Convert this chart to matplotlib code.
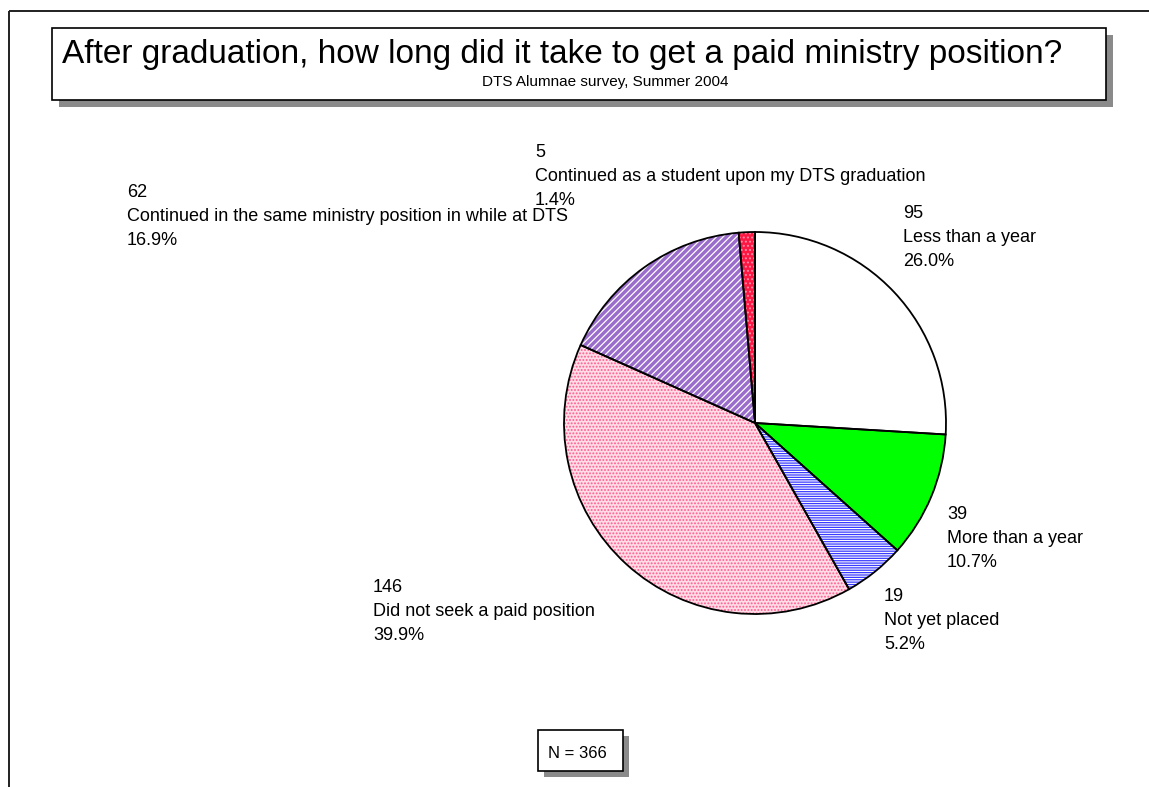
import matplotlib
matplotlib.use("Agg")
import matplotlib.pyplot as plt
from matplotlib.patches import Rectangle

plt.rcParams['font.family'] = ['Liberation Sans', 'DejaVu Sans']
plt.rcParams['hatch.linewidth'] = 0.9

# Survey responses, clockwise from 12 o'clock
categories = [
    "Less than a year",
    "More than a year",
    "Not yet placed",
    "Did not seek a paid position",
    "Continued in the same ministry position in while at DTS",
    "Continued as a student upon my DTS graduation",
]
counts = [95, 39, 19, 146, 62, 5]

title = "After graduation, how long did it take to get a paid ministry position?"
subtitle = "DTS Alumnae survey, Summer 2004"

# Slice fills
face_colors = ['white', '#00FF00', 'white', '#FFDCE7', '#9A6CCB', '#FF1744']
hatch_colors = ['white', '#00FF00', '#3B3BFF', '#FF5C8D', 'white', '#FF90A8']
hatches = [None, None, '-------', '.....', '/////', '....']

W, H = 1149, 787
fig = plt.figure(figsize=(W / 100, H / 100), dpi=100)

# Overlay axes in pixel coordinates (y down) for frame, boxes and labels
ov = fig.add_axes([0, 0, 1, 1])
ov.set_xlim(0, W)
ov.set_ylim(H, 0)
ov.axis('off')

# Outer frame lines
ov.plot([9, W], [11, 11], color='#202020', lw=1.4, solid_capstyle='butt')
ov.plot([9, 9], [11, H], color='#202020', lw=1.4, solid_capstyle='butt')

# Title box with drop shadow
ov.add_patch(Rectangle((59, 35), 1054, 72, facecolor='#8a8a8a', edgecolor='none'))
ov.add_patch(Rectangle((52, 28), 1054, 72, facecolor='white', edgecolor='black', lw=1.2))
ov.text(62, 63, title, fontsize=24, ha='left', va='baseline')
ov.text(728, 86, subtitle, fontsize=11, ha='right', va='baseline')

# Pie
cx, cy, r = 755, 423, 191
pa = fig.add_axes([(cx - r) / W, (H - cy - r) / H, 2 * r / W, 2 * r / H])
wedges, _ = pa.pie(counts, startangle=90, counterclock=False,
                   colors=face_colors, wedgeprops=dict(linewidth=0))
for w, hc, h in zip(wedges, hatch_colors, hatches):
    if h:
        w.set_edgecolor(hc)
        w.set_hatch(h)
        w.set_linewidth(0)
pa.pie(counts, startangle=90, counterclock=False,
       colors=['none'] * len(counts),
       wedgeprops=dict(edgecolor='black', linewidth=1.3, fill=False))
pa.set_xlim(-1, 1)
pa.set_ylim(-1, 1)
pa.axis('off')

# Data labels: count, category, percentage
total = sum(counts)
label_pos = [(903, 218), (947, 519), (884, 601), (373, 592), (127, 197), (535, 157)]
for (x, y), cat, n in zip(label_pos, categories, counts):
    lines = [f"{n}", cat, f"{100 * n / total:.1f}%"]
    for i, s in enumerate(lines):
        ov.text(x, y + 24 * i, s, fontsize=13, ha='left', va='baseline')

# N box with drop shadow
ov.add_patch(Rectangle((544, 736), 85, 41, facecolor='#8a8a8a', edgecolor='none'))
ov.add_patch(Rectangle((538, 730), 85, 41, facecolor='white', edgecolor='black', lw=1.2))
ov.text(548, 758, f"N = {total}", fontsize=12, ha='left', va='baseline')

fig.savefig("out.png", dpi=100)
